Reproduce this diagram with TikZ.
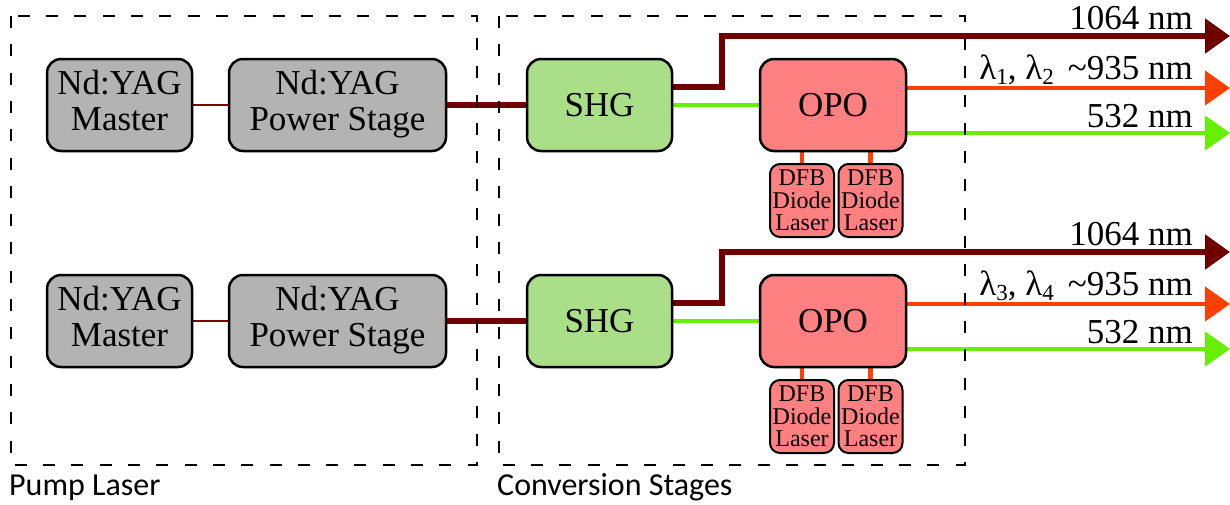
\documentclass[tikz,border=0pt]{standalone}
\usepackage{fontspec}
\setmainfont{Liberation Serif}
\newfontfamily\sansf{Carlito}
\usetikzlibrary{arrows.meta,calc}
\pgfdeclarelayer{bg}
\pgfsetlayers{bg,main}
\definecolor{boxgray}{RGB}{179,179,179}
\definecolor{shggreen}{RGB}{170,222,136}
\definecolor{oposalmon}{RGB}{255,128,128}
\definecolor{beamred}{RGB}{112,0,0}
\definecolor{beamorange}{RGB}{255,64,0}
\definecolor{beamgreen}{RGB}{102,240,0}
\definecolor{thinred}{RGB}{128,0,0}
\newcommand\lsub[1]{\raisebox{-5pt}{\fontsize{23}{23}\selectfont #1}}
\newcommand\twoline[2]{\raisebox{-5pt}{\begin{tabular}{@{}c@{}}#1\\#2\end{tabular}}}
\begin{document}
\begin{tikzpicture}[x=1pt,y=-1pt,
  box/.style={draw=black, line width=2.5pt, rounded corners=14pt, inner sep=0pt,
    align=center, font=\fontsize{35}{36}\selectfont},
  graybox/.style={box, fill=boxgray, minimum height=92pt},
  shgbox/.style={box, fill=shggreen, minimum width=145pt, minimum height=92pt},
  opobox/.style={box, fill=oposalmon, minimum width=146pt, minimum height=92pt},
  dfbbox/.style={draw=black, line width=2pt, rounded corners=10pt, inner sep=0pt,
    fill=oposalmon, minimum width=64pt, minimum height=73pt, align=center,
    font=\fontsize{24}{22.3}\selectfont},
  groupbox/.style={draw=black, line width=2pt, dash pattern=on 12pt off 16.3pt},
  grouplabel/.style={inner sep=0pt, anchor=base west, font=\sansf\fontsize{32}{32}\selectfont},
  beamlabel/.style={inner sep=0pt, font=\fontsize{35}{35}\selectfont},
  thinbeam/.style={draw=thinred, line width=2pt},
  redbeam/.style={draw=beamred, line width=5.5pt},
  orangebeam/.style={draw=beamorange, line width=4.5pt},
  greenbeam/.style={draw=beamgreen, line width=4.5pt},
  tip/.style={-{Triangle[length=25pt,width=34pt]}},
]
\useasboundingbox (0,0) rectangle (1230,504);

% group boxes
\draw[groupbox] (11,16) rectangle (477,465);
\draw[groupbox] (499,16) rectangle (965,465);
\node[grouplabel] (pump) at (9,495) {Pump Laser};
\node[grouplabel] (conv) at (497,495) {Conversion Stages};

\foreach \r/\yc/\la/\lb in {1/105/1/2, 2/321/3/4}{
  \node[graybox, minimum width=145pt] (m\r) at (119.5,\yc) {\twoline{Nd:YAG}{Master}};
  \node[graybox, minimum width=217pt] (p\r) at (337.5,\yc) {\twoline{Nd:YAG}{Power Stage}};
  \node[shgbox] (s\r) at (599.5,\yc) {SHG};
  \node[opobox] (o\r) at (833,\yc) {OPO};
  \node[dfbbox] (da\r) at (802,\yc+95.5) {DFB\\Diode\\Laser};
  \node[dfbbox] (db\r) at (870.5,\yc+95.5) {DFB\\Diode\\Laser};
  \coordinate (k\r) at (722,\yc-69);
  \coordinate (ea\r) at (1230,\yc-69);
  \coordinate (eb\r) at (1230,\yc-17);
  \coordinate (ec\r) at (1230,\yc+28);
  \node[beamlabel, anchor=base east] (la\r) at (1193,\yc-76) {1064 nm};
  \node[beamlabel, anchor=base east] (lb\r) at (1193,\yc-26) {λ\lsub{\la}, λ\lsub{\lb}\hspace{14pt}\textasciitilde935 nm};
  \node[beamlabel, anchor=base east] (lc\r) at (1193,\yc+22) {532 nm};
  \begin{pgfonlayer}{bg}
    \draw[thinbeam] (m\r) -- (p\r);
    \draw[redbeam] (p\r) -- (s\r);
    \draw[redbeam, tip] ($(s\r.east)+(0,-18)$) -| (k\r) -- (ea\r);
    \draw[greenbeam] (s\r) -- (o\r);
    \draw[orangebeam, tip] (o\r.east |- eb\r) -- (eb\r);
    \draw[greenbeam, tip] (o\r.east |- ec\r) -- (ec\r);
    \draw[orangebeam] (da\r.north) -- (da\r.north |- o\r.south);
    \draw[orangebeam] (db\r.north) -- (db\r.north |- o\r.south);
  \end{pgfonlayer}
}
\end{tikzpicture}
\end{document}
